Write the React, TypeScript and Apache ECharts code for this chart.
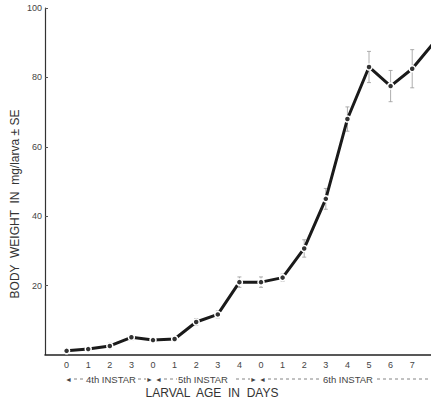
import React, { useEffect, useRef } from "react";
import * as echarts from "echarts";

const dayLabels = ["0", "1", "2", "3", "0", "1", "2", "3", "4", "0", "1", "2", "3", "4", "5", "6", "7", "8"];
const weights = [1.2, 1.7, 2.6, 5.1, 4.3, 4.6, 9.5, 11.7, 21, 21, 22.3, 30.7, 45, 68, 83, 77.5, 82.5, 90];
const se = [0.4, 0.5, 0.8, 0.8, 0.6, 0.6, 1, 1, 1.5, 1.5, 1, 2.5, 3, 3.5, 4.5, 4.5, 5.5, 6];
const yTicks = [0, 20, 40, 60, 80, 100];
const instarNames = ["4th INSTAR", "5th INSTAR", "6th INSTAR"];

export default function App() {
  const ref = useRef<HTMLDivElement>(null);
  useEffect(() => {
    const chart = echarts.init(ref.current!, null, { renderer: "svg" });
    const lineData = weights.map((v, i) => [i, v]);
    const errData = weights.map((v, i) => [i, v - se[i], v + se[i]]);
    const font = "Liberation Sans, Arial, sans-serif";
    const rowY = 379;
    const txt = (x: number, s: string, size = 9.5) => ({
      type: "text",
      x,
      y: rowY,
      style: { text: s, fontSize: size, fontFamily: font, fill: "#444", verticalAlign: "middle" },
    });
    const dash = (x1: number, x2: number) => ({
      type: "line",
      shape: { x1, y1: rowY, x2, y2: rowY },
      style: { stroke: "#666", lineWidth: 0.8, lineDash: [3, 3] },
    });
    chart.setOption({
      animation: false,
      backgroundColor: "#fff",
      grid: { left: 45, right: 0, top: 8, bottom: 50, containLabel: false },
      xAxis: {
        type: "value",
        min: -1,
        max: 16.87,
        interval: 1,
        axisLine: { show: true, onZero: false, lineStyle: { color: "#222", width: 1.5 } },
        axisTick: { show: false },
        splitLine: { show: false },
        axisLabel: {
          color: "#444",
          fontSize: 9,
          fontFamily: font,
          margin: 5,
          showMaxLabel: false,
          formatter: (v: number) => {
            const i = Math.round(v);
            if (Math.abs(v - i) > 0.01 || i < 0 || i >= dayLabels.length) return "";
            return dayLabels[i];
          },
        },
      },
      yAxis: {
        type: "value",
        min: yTicks[0],
        max: yTicks[yTicks.length - 1],
        interval: 20,
        axisLine: { show: true, onZero: false, lineStyle: { color: "#333", width: 1.2 } },
        axisTick: { show: true, inside: true, length: 3, lineStyle: { color: "#555" } },
        splitLine: { show: false },
        axisLabel: {
          color: "#444",
          fontSize: 9,
          fontFamily: font,
          margin: 3,
          formatter: (v: number) => (v === 0 ? "" : String(v)),
        },
      },
      graphic: [
        {
          type: "text",
          x: 15,
          y: 204,
          rotation: Math.PI / 2,
          style: {
            text: "BODY  WEIGHT  IN  mg/larva ± SE",
            fontSize: 12,
            fontFamily: font,
            fill: "#333",
            align: "center",
            verticalAlign: "middle",
          },
        },
        {
          type: "text",
          x: 212,
          y: 393,
          style: {
            text: "LARVAL  AGE  IN  DAYS",
            fontSize: 12,
            fontFamily: font,
            fill: "#333",
            align: "center",
            verticalAlign: "middle",
          },
        },
        txt(65, "◄", 7),
        dash(74, 84),
        txt(86, instarNames[0]),
        dash(138, 146),
        txt(146, "►", 7),
        txt(155, "◄", 7),
        dash(164, 177),
        txt(178, instarNames[1]),
        dash(236, 250),
        txt(250, "►", 7),
        txt(259, "◄", 7),
        dash(268, 321),
        txt(323, instarNames[2]),
        dash(377, 431),
      ],
      series: [
        {
          type: "custom",
          clip: true,
          data: errData,
          renderItem: (params: any, api: any) => {
            const x = api.value(0);
            const lo = api.coord([x, api.value(1)]);
            const hi = api.coord([x, api.value(2)]);
            const w = 2;
            const st = { stroke: "#999", lineWidth: 0.8 };
            return {
              type: "group",
              children: [
                { type: "line", shape: { x1: lo[0], y1: lo[1], x2: hi[0], y2: hi[1] }, style: st },
                { type: "line", shape: { x1: lo[0] - w, y1: lo[1], x2: lo[0] + w, y2: lo[1] }, style: st },
                { type: "line", shape: { x1: hi[0] - w, y1: hi[1], x2: hi[0] + w, y2: hi[1] }, style: st },
              ],
            };
          },
          z: 1,
        },
        {
          type: "line",
          data: lineData,
          clip: true,
          symbol: "circle",
          symbolSize: 6,
          showSymbol: true,
          lineStyle: { color: "#1a1a1a", width: 3 },
          itemStyle: { color: "#333", borderColor: "#fff", borderWidth: 1.5 },
          z: 2,
        },
      ],
    });
    return () => chart.dispose();
  }, []);
  return <div ref={ref} style={{ position: "absolute", left: 0, top: 0, width: 431, height: 405 }} />;
}
